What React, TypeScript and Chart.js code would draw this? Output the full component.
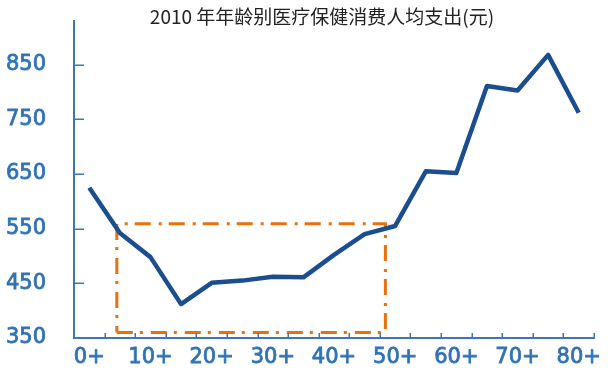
import React, { useEffect, useRef } from 'react';
import { Chart, registerables } from 'chart.js';

Chart.register(...registerables);

const TITLE = '2010 年年龄别医疗保健消费人均支出(元)';
const CATEGORIES = ['0+', '5+', '10+', '15+', '20+', '25+', '30+', '35+', '40+', '45+', '50+', '55+', '60+', '65+', '70+', '75+', '80+'];
const SHOWN_LABELS = ['0+', '10+', '20+', '30+', '40+', '50+', '60+', '70+', '80+'];
const SPENDING = [625, 542, 498, 412, 451, 455, 462, 461, 502, 540, 555, 655, 652, 811, 803, 868, 762];
const Y_TICKS = [350, 450, 550, 650, 750, 850];
const Y_MIN = 350;
const Y_MAX = 930;
const AGE_MIN = -2.5;
const AGE_MAX = 82.5;
const BOX_AGES = [4.5, 48.4, 48.4, 4.5, 4.5];
const BOX_VALUES = [360, 360, 559, 559, 360];

const AXIS_COLOR = '#3B77B7';
const LABEL_COLOR = '#3072B6';
const LINE_COLOR = '#1A4E8E';
const BOX_COLOR = '#E8700E';

const decorPlugin = {
  id: 'decor',
  afterDraw(chart: any) {
    const ctx = chart.ctx;
    const { left, bottom } = chart.chartArea;
    const ys = chart.scales.y;
    const xs = chart.scales.x;
    ctx.save();
    ctx.strokeStyle = AXIS_COLOR;
    ctx.lineWidth = 1.5;
    Y_TICKS.forEach((v) => {
      if (v === Y_MIN) return;
      const py = Math.round(ys.getPixelForValue(v)) + 0.25;
      ctx.beginPath();
      ctx.moveTo(left, py);
      ctx.lineTo(left + 10, py);
      ctx.stroke();
    });
    for (let i = 0; i < CATEGORIES.length; i++) {
      const px = Math.round(xs.getPixelForValue(i + 0.5)) + 0.25;
      ctx.beginPath();
      ctx.moveTo(px, bottom);
      ctx.lineTo(px, bottom - 5);
      ctx.stroke();
    }
    ctx.fillStyle = '#222222';
    ctx.font = '19px "Noto Sans CJK SC", sans-serif';
    ctx.textAlign = 'center';
    ctx.textBaseline = 'middle';
    ctx.fillText(TITLE, 322, 16.5);
    ctx.restore();
  },
};

export default function App() {
  const canvasRef = useRef<HTMLCanvasElement | null>(null);

  useEffect(() => {
    document.body.style.margin = '0';
    const canvas = canvasRef.current;
    if (!canvas) return;
    const labelFont = { family: '"DejaVu Sans", Verdana, sans-serif', size: 21 };
    const chart = new Chart(canvas, {
      type: 'line',
      data: {
        labels: CATEGORIES,
        datasets: [
          {
            data: SPENDING,
            xAxisID: 'x',
            yAxisID: 'y',
            borderColor: LINE_COLOR,
            borderWidth: 4.5,
            pointRadius: 0,
            tension: 0,
            fill: false,
            borderJoinStyle: 'round',
            borderCapStyle: 'butt',
            clip: false,
            order: 1,
          } as any,
          {
            data: BOX_AGES.map((a, i) => ({ x: a, y: BOX_VALUES[i] })),
            xAxisID: 'age',
            yAxisID: 'y',
            borderColor: BOX_COLOR,
            borderWidth: 3,
            borderDash: [16, 7, 3, 8],
            pointRadius: 0,
            tension: 0,
            fill: false,
            clip: false,
            order: 2,
          } as any,
        ],
      },
      options: {
        responsive: false,
        animation: false,
        events: [],
        layout: { padding: { top: 21, right: 14, left: 0, bottom: 0 } },
        plugins: {
          legend: { display: false },
          title: { display: false },
          tooltip: { enabled: false },
        },
        scales: {
          x: {
            type: 'category',
            offset: true,
            grid: { display: true, drawOnChartArea: false, drawTicks: false, offset: true },
            border: { display: true, color: AXIS_COLOR, width: 2 },
            ticks: {
              autoSkip: false,
              maxRotation: 0,
              minRotation: 0,
              padding: 7,
              color: LABEL_COLOR,
              textStrokeColor: LABEL_COLOR,
              textStrokeWidth: 0.8,
              font: labelFont,
              callback: (_v: any, idx: number) =>
                SHOWN_LABELS.includes(CATEGORIES[idx]) ? CATEGORIES[idx] : '',
            },
            afterFit: (scale: any) => {
              scale.height = 32;
              scale.paddingLeft = 0;
              scale.paddingRight = 0;
            },
          },
          age: {
            type: 'linear',
            display: false,
            min: AGE_MIN,
            max: AGE_MAX,
          },
          y: {
            type: 'linear',
            min: Y_MIN,
            max: Y_MAX,
            grid: { display: true, drawOnChartArea: false, drawTicks: false },
            border: { display: true, color: AXIS_COLOR, width: 2 },
            ticks: {
              padding: 28,
              color: LABEL_COLOR,
              textStrokeColor: LABEL_COLOR,
              textStrokeWidth: 0.8,
              font: labelFont,
            },
            afterBuildTicks: (scale: any) => {
              scale.ticks = Y_TICKS.map((v) => ({ value: v }));
            },
            afterFit: (scale: any) => {
              scale.width = 74;
              scale.paddingTop = 0;
              scale.paddingBottom = 0;
            },
          },
        },
      } as any,
      plugins: [decorPlugin],
    });
    return () => chart.destroy();
  }, []);

  return (
    <div style={{ width: 608, height: 370, background: '#ffffff' }}>
      <canvas ref={canvasRef} width={608} height={370} style={{ display: 'block' }} />
    </div>
  );
}
